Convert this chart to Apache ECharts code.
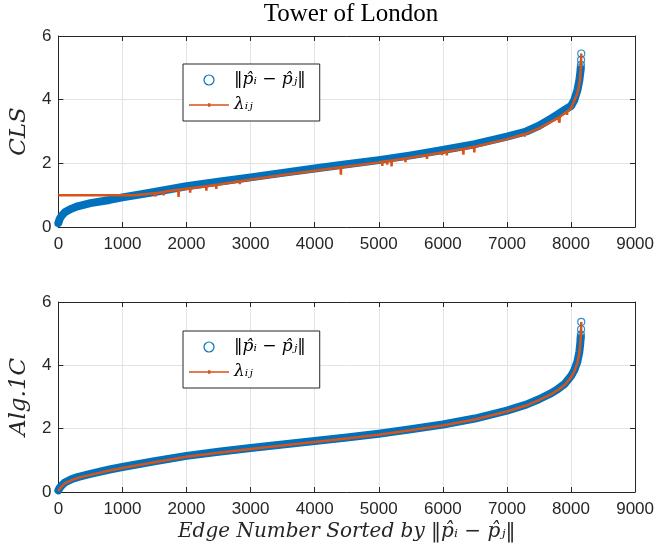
<!DOCTYPE html>
<html>
<head>
    <meta charset="utf-8">
    <title>Tower of London</title>
    <script src="https://cdn.jsdelivr.net/npm/echarts@6/dist/echarts.min.js"></script>
    <style>
        html, body { margin: 0; padding: 0; background: #fff; }
        #main { width: 657px; height: 554px; }
    </style>
</head>
<body>
<div id="main"></div>

<script type="text/javascript">
    // tick labels
    var xTicks = [0, 1000, 2000, 3000, 4000, 5000, 6000, 7000, 8000, 9000];
    var yTicks = [0, 2, 4, 6];

    // top panel (CLS): sorted ||p_i - p_j||, [edge, value]
    var distCLS = [
        [0, 0.12], [20, 0.25], [50, 0.35], [100, 0.46], [200, 0.57], [300, 0.65], [500, 0.75],
        [800, 0.85], [1000, 0.93], [1500, 1.1], [2000, 1.28], [2500, 1.42], [3000, 1.56],
        [3500, 1.7], [4000, 1.84], [4500, 1.97], [5000, 2.1], [5500, 2.25], [6000, 2.42],
        [6500, 2.6], [7000, 2.84], [7300, 3.0], [7500, 3.18], [7700, 3.42], [7800, 3.55],
        [7900, 3.68], [8000, 3.8], [8050, 3.98], [8100, 4.3], [8130, 4.6], [8145, 4.85], [8150, 4.95]
    ];
    var distCLSTop = [[8152, 5.0], [8155, 5.09], [8157, 5.25], [8160, 5.45]];

    // top panel lambda_ij (with the downward spikes)
    var lambdaCLS = [
        [0, 1.0], [1200, 1.0], [1500, 1.06], [1516, 0.96], [1520, 1.06], [1640, 1.1], [1643, 0.99],
        [1647, 1.1], [1700, 1.12], [1872, 1.17], [1876, 0.94], [1880, 1.17], [2000, 1.2],
        [2053, 1.22], [2057, 1.08], [2061, 1.22], [2306, 1.28], [2310, 1.14], [2314, 1.28],
        [2461, 1.33], [2465, 1.2], [2469, 1.33], [2828, 1.44], [2832, 1.35], [2836, 1.44],
        [3000, 1.49], [3500, 1.63], [4000, 1.77], [4405, 1.88], [4409, 1.64], [4413, 1.88],
        [4500, 1.9], [5000, 2.03], [5051, 2.05], [5055, 1.92], [5059, 2.05], [5128, 2.07],
        [5132, 1.96], [5136, 2.07], [5196, 2.09], [5200, 1.9], [5204, 2.09], [5413, 2.15],
        [5417, 2.04], [5421, 2.15], [5500, 2.18], [5748, 2.26], [5752, 2.14], [5756, 2.26],
        [5981, 2.34], [5985, 2.26], [5989, 2.34], [6058, 2.37], [6062, 2.25], [6066, 2.37],
        [6317, 2.45], [6321, 2.27], [6325, 2.45], [6487, 2.52], [6491, 2.34], [6495, 2.52],
        [7000, 2.76], [7273, 2.92], [7277, 2.84], [7281, 2.92], [7500, 3.1], [7800, 3.43],
        [7816, 3.46], [7820, 3.28], [7824, 3.46], [7934, 3.62], [7938, 3.52], [7942, 3.63],
        [8000, 3.72], [8100, 4.2], [8140, 4.6], [8150, 4.95], [8155, 5.09], [8157, 5.25], [8160, 5.45]
    ];

    // bottom panel (Alg.1C)
    var distAlg = [
        [0, 0.05], [20, 0.13], [50, 0.2], [100, 0.3], [200, 0.4], [300, 0.47], [500, 0.57],
        [800, 0.71], [1000, 0.79], [1500, 0.97], [2000, 1.14], [2500, 1.27], [3000, 1.39],
        [3500, 1.5], [4000, 1.61], [4500, 1.72], [5000, 1.84], [5500, 1.98], [6000, 2.13],
        [6500, 2.32], [7000, 2.57], [7300, 2.76], [7500, 2.93], [7700, 3.13], [7800, 3.26],
        [7900, 3.41], [8000, 3.66], [8050, 3.84], [8100, 4.12], [8130, 4.42], [8145, 4.7], [8150, 4.85]
    ];
    var distAlgTop = [[8152, 4.89], [8154, 4.97], [8157, 5.14], [8160, 5.37]];
    var lambdaAlg = [
        [0, 0.03], [20, 0.1], [50, 0.17], [100, 0.27], [200, 0.37], [300, 0.44], [500, 0.54],
        [800, 0.68], [1000, 0.76], [1500, 0.94], [2000, 1.11], [2500, 1.24], [3000, 1.36],
        [3500, 1.47], [4000, 1.58], [4500, 1.69], [5000, 1.81], [5500, 1.95], [6000, 2.1],
        [6500, 2.29], [7000, 2.54], [7300, 2.73], [7500, 2.9], [7700, 3.1], [7800, 3.23],
        [7900, 3.38], [8000, 3.62], [8050, 3.8], [8100, 4.08], [8130, 4.38], [8145, 4.66],
        [8150, 4.85], [8154, 4.97], [8157, 5.14], [8160, 5.37]
    ];

    var BLUE = '#0072BD';
    var ORANGE = '#D95319';
    var AX = '#262626';
    var mathFont = 'DejaVu Serif';

    var legendNames = {
        dCLS: '‖p̂ᵢ − p̂ⱼ‖', dAlg: '‖p̂ᵢ − p̂ⱼ‖',
        lCLS: 'λᵢⱼ', lAlg: 'λᵢⱼ'
    };

    function xAxis(grid, top) {
        return {
            type: 'value', gridIndex: grid, min: 0, max: 9000, interval: 1000,
            position: top ? 'top' : 'bottom',
            axisLine: { show: true, onZero: false, lineStyle: { color: AX, width: 1 } },
            axisTick: { show: true, inside: true, length: 5, lineStyle: { color: AX } },
            axisLabel: {
                show: !top, color: AX, fontFamily: 'Liberation Sans', fontSize: 17, margin: 9,
                formatter: function (v) { return xTicks.indexOf(v) >= 0 ? String(v) : ''; }
            },
            splitLine: { show: !top, lineStyle: { color: '#e3e3e3', width: 1 } }
        };
    }

    function yAxis(grid, right, name) {
        return {
            type: 'value', gridIndex: grid, min: 0, max: 6, interval: 2,
            position: right ? 'right' : 'left',
            name: right ? '' : name,
            nameLocation: 'middle', nameGap: 23,
            nameTextStyle: { fontFamily: mathFont, fontStyle: 'italic', fontSize: 23, color: AX },
            axisLine: { show: true, onZero: false, lineStyle: { color: AX, width: 1 } },
            axisTick: { show: true, inside: true, length: 5, lineStyle: { color: AX } },
            axisLabel: {
                show: !right, color: AX, fontFamily: 'Liberation Sans', fontSize: 17, margin: 7,
                formatter: function (v) { return yTicks.indexOf(v) >= 0 ? String(v) : ''; }
            },
            splitLine: { show: !right, lineStyle: { color: '#e3e3e3', width: 1 } }
        };
    }

    function legend(top, dName, lName) {
        return {
            left: 183, top: top, orient: 'vertical',
            padding: [6, 14, 6, 6], itemGap: 5, itemWidth: 40, itemHeight: 10,
            backgroundColor: '#fff', borderColor: AX, borderWidth: 1, borderRadius: 0,
            selectedMode: false,
            textStyle: { fontFamily: mathFont, fontStyle: 'italic', fontSize: 17, color: '#000', lineHeight: 20 },
            formatter: function (n) { return legendNames[n]; },
            data: [
                { name: dName, icon: 'circle',
                  itemStyle: { color: 'rgba(0,0,0,0)', borderColor: BLUE, borderWidth: 1.2 } },
                // line with a small dot, like the '.-' marker style
                { name: lName, icon: 'path://M0,1h40v1.6h-40z M19,0h2.4v3.6h-2.4z',
                  itemStyle: { color: ORANGE, borderWidth: 0 } }
            ]
        };
    }

    function panel(k, dName, lName, dist, distTop, lambda) {
        return [
            {
                name: dName, type: 'line', xAxisIndex: k, yAxisIndex: k, data: dist,
                showSymbol: false, symbol: 'none', clip: false, z: 2,
                lineStyle: { color: BLUE, width: 8, cap: 'round', join: 'round' },
                itemStyle: { color: BLUE }
            },
            {
                name: dName, type: 'scatter', xAxisIndex: k, yAxisIndex: k, data: distTop,
                symbol: 'circle', symbolSize: 7, clip: false, z: 3,
                itemStyle: { color: 'rgba(0,0,0,0)', borderColor: BLUE, borderWidth: 1.2 }
            },
            {
                name: lName, type: 'line', xAxisIndex: k, yAxisIndex: k, data: lambda,
                symbol: 'circle', symbolSize: 3, showSymbol: false, z: 4,
                lineStyle: { color: ORANGE, width: 2.5 },
                itemStyle: { color: ORANGE }
            }
        ];
    }

    var myChart = echarts.init(document.getElementById('main'));
    myChart.setOption({
        backgroundColor: '#fff',
        animation: false,
        title: {
            text: 'Tower of London', left: 351, top: 2, textAlign: 'center', padding: 0,
            textStyle: { fontFamily: 'Liberation Serif', fontWeight: 'normal', fontSize: 25, color: '#000' }
        },
        grid: [
            { left: 57, top: 36, width: 580, height: 191 },
            { left: 57, top: 302, width: 580, height: 190 }
        ],
        xAxis: [
            xAxis(0, false),
            Object.assign(xAxis(1, false), {
                name: 'Edge Number Sorted by ‖p̂ᵢ − p̂ⱼ‖', nameLocation: 'middle', nameGap: 30,
                nameTextStyle: { fontFamily: mathFont, fontStyle: 'italic', fontSize: 20, color: AX }
            }),
            xAxis(0, true),
            xAxis(1, true)
        ],
        yAxis: [
            yAxis(0, false, 'CLS'),
            yAxis(1, false, 'Alg.1C'),
            yAxis(0, true),
            yAxis(1, true)
        ],
        legend: [
            legend(64, 'dCLS', 'lCLS'),
            legend(331, 'dAlg', 'lAlg')
        ],
        series: [].concat(
            panel(0, 'dCLS', 'lCLS', distCLS, distCLSTop, lambdaCLS),
            panel(1, 'dAlg', 'lAlg', distAlg, distAlgTop, lambdaAlg)
        )
    });
</script>
</body>
</html>
